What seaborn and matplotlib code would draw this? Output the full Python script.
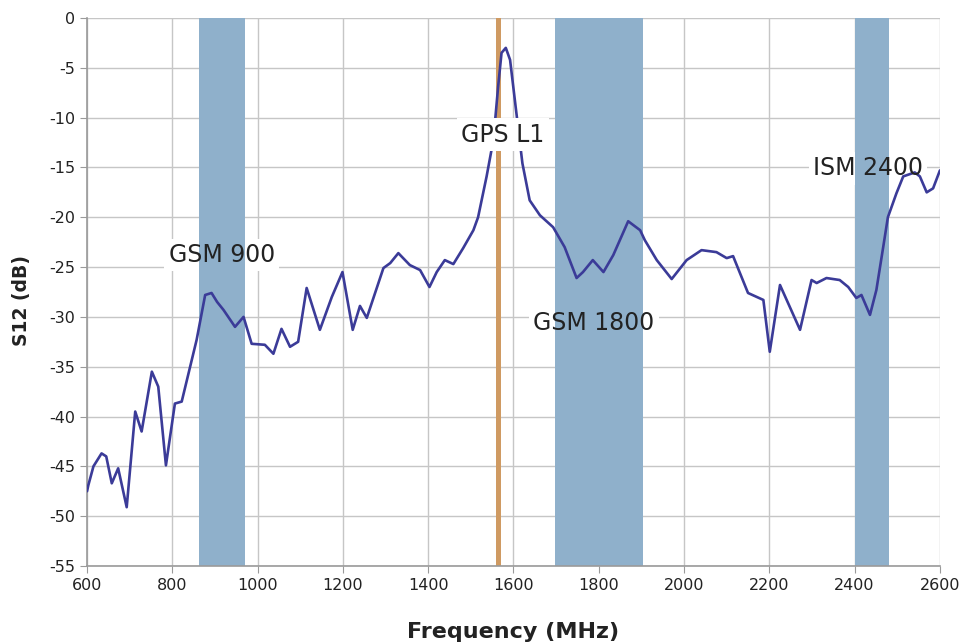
import matplotlib
matplotlib.use("Agg")
import matplotlib.pyplot as plt
import seaborn as sns
import pandas as pd

freq = [600, 603, 615, 634, 645, 658, 673, 693, 713, 728, 752, 767, 785, 806, 822,
        857, 877, 892, 905, 920, 947, 967, 986, 1017, 1037, 1056, 1076, 1095, 1115,
        1146, 1174, 1199, 1223, 1240, 1256, 1295, 1311, 1330, 1357, 1381, 1403, 1420,
        1439, 1459, 1482, 1506, 1517, 1537, 1553, 1564, 1572, 1582, 1592, 1607, 1621,
        1638, 1662, 1693, 1720, 1748, 1763, 1786, 1811, 1834, 1869, 1897, 1908, 1936,
        1971, 2006, 2041, 2076, 2100, 2115, 2150, 2186, 2201, 2225, 2272, 2299, 2311,
        2334, 2365, 2385, 2404, 2416, 2436, 2451, 2467, 2478, 2498, 2514, 2541, 2553,
        2569, 2584, 2600]
s12 = [-47.5, -46.9, -45.0, -43.7, -44.0, -46.7, -45.2, -49.1, -39.5, -41.5, -35.5, -37.0,
       -44.9, -38.7, -38.5, -32.3, -27.8, -27.6, -28.5, -29.3, -31.0, -30.0, -32.7, -32.8,
       -33.7, -31.2, -33.0, -32.5, -27.1, -31.3, -28.0, -25.5, -31.3, -28.9, -30.1, -25.1,
       -24.6, -23.6, -24.8, -25.3, -27.0, -25.5, -24.3, -24.7, -23.1, -21.3, -20.0, -15.9,
       -12.2, -6.9, -3.5, -3.0, -4.2, -9.6, -14.6, -18.3, -19.8, -21.0, -23.0, -26.1,
       -25.5, -24.3, -25.5, -23.8, -20.4, -21.3, -22.3, -24.3, -26.2, -24.3, -23.3, -23.5,
       -24.1, -23.9, -27.6, -28.3, -33.5, -26.8, -31.3, -26.3, -26.6, -26.1, -26.3, -27.0,
       -28.1, -27.8, -29.8, -27.3, -23.0, -20.0, -17.6, -15.9, -15.5, -15.9, -17.5, -17.1,
       -15.3]

band_names = ["GSM 900", "GSM 1800", "ISM 2400"]
band_lo = [862, 1697, 2400]
band_hi = [970, 1904, 2480]
band_label_x = [916, 1789, 2431]
band_label_y = [-23.8, -30.6, -15.1]

gps_name = "GPS L1"
gps_lo, gps_hi = 1560, 1571
gps_label_x, gps_label_y = 1575, -11.7

x_ticks = list(range(600, 2601, 200))
y_ticks = list(range(-55, 1, 5))

sns.set_style("white")
plt.rcParams['font.family'] = ['DejaVu Sans']
plt.rcParams['axes.unicode_minus'] = False

fig = plt.figure(figsize=(9.65, 6.42), dpi=100)
ax = fig.add_axes([0.0902, 0.1184, 0.974 - 0.0902, 0.972 - 0.1184])

ax.set_xlim(600, 2600)
ax.set_ylim(-55, 0)
ax.set_xticks(x_ticks)
ax.set_yticks(y_ticks)
ax.grid(True, color="#c6c6c6", linewidth=1.0, zorder=0)
ax.set_axisbelow(True)

band_color = "#8fb0cb"
for lo, hi in zip(band_lo, band_hi):
    ax.axvspan(lo, hi, color=band_color, lw=0, zorder=2)
ax.axvspan(gps_lo, gps_hi, color="#cf9a62", lw=0, zorder=2)

df = pd.DataFrame({"freq": freq, "s12": s12})
sns.lineplot(data=df, x="freq", y="s12", ax=ax, color="#3b3b98", lw=1.9, zorder=4)

fs = 17
for name, lx, ly in zip(band_names, band_label_x, band_label_y):
    ax.text(lx, ly, name, ha="center", va="center", fontsize=fs, color="white",
            alpha=0, bbox=dict(facecolor="white", edgecolor="none", pad=3), zorder=1)
    ax.text(lx, ly, name, ha="center", va="center", fontsize=fs, color="#222222", zorder=5)
ax.text(gps_label_x, gps_label_y, gps_name, ha="center", va="center", fontsize=fs,
        color="#222222", bbox=dict(facecolor="white", edgecolor="none", pad=3), zorder=5)

for s in ["top", "right"]:
    ax.spines[s].set_visible(False)
for s in ["left", "bottom"]:
    ax.spines[s].set_color("#9a9a9a")
    ax.spines[s].set_linewidth(1.2)
ax.tick_params(axis="both", direction="out", length=5, color="#9a9a9a",
               labelsize=11.5, labelcolor="#222222", left=True, bottom=True)

ax.set_xlabel("Frequency (MHz)", fontsize=16, fontweight="bold", color="#222222", labelpad=21)
ax.set_ylabel("S12 (dB)", fontsize=13.5, fontweight="bold", color="#222222")
ax.yaxis.set_label_coords(-0.066, 0.485)

fig.savefig("out.png", dpi=100)
